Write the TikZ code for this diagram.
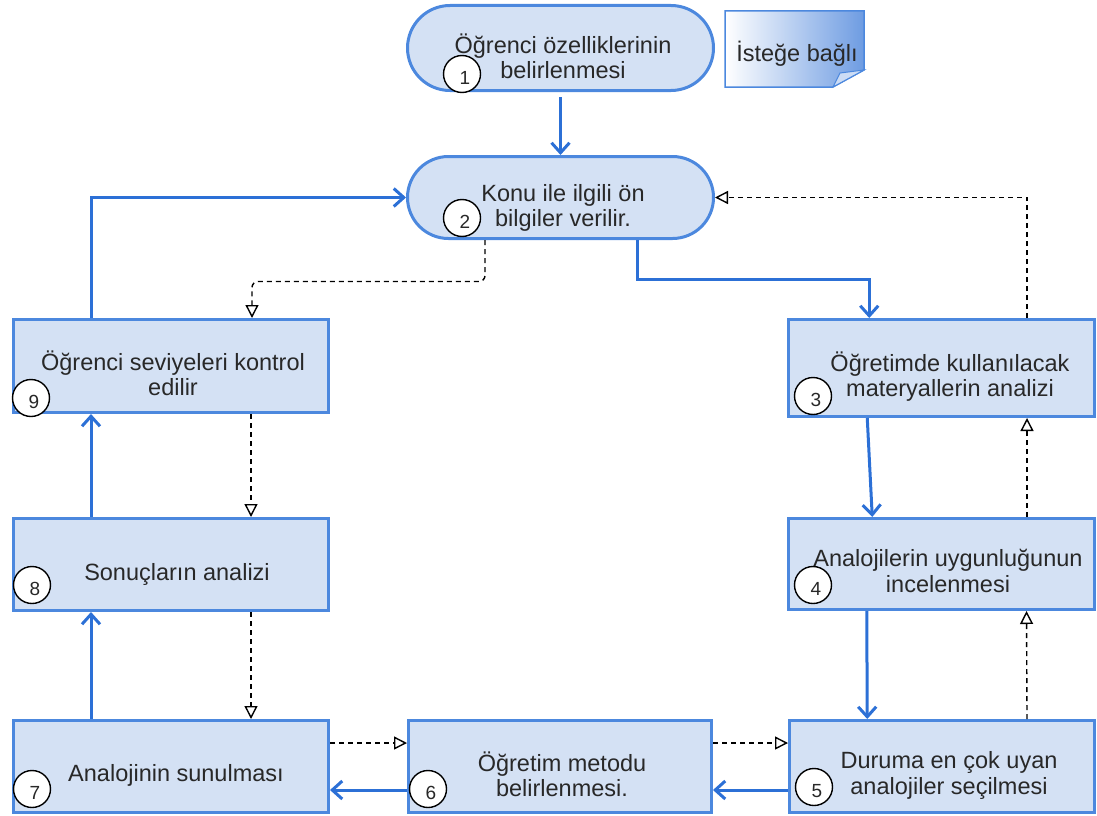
\documentclass[tikz,border=0pt]{standalone}
\usepackage{fontspec}
\setmainfont{Liberation Sans}
\usetikzlibrary{arrows.meta,calc}
\definecolor{boxfill}{RGB}{212,225,244}
\definecolor{boxline}{RGB}{76,136,222}
\definecolor{flowc}{RGB}{44,112,214}
\definecolor{txtc}{RGB}{40,40,40}
\definecolor{noteblue}{RGB}{110,156,226}
\tikzset{
  box/.style={draw=boxline, fill=boxfill, line width=3pt, inner sep=0pt, rectangle},
  txt/.style={text=txtc, font=\fontsize{23.5}{26}\selectfont, inner sep=0pt, anchor=base},
  num/.style={circle, draw=black, fill=white, line width=1.4pt, minimum size=37pt, inner sep=0pt},
  numtxt/.style={font=\fontsize{19}{19}\selectfont, text=txtc, inner sep=0pt},
  flow/.style={draw=flowc, line width=3pt, -{Straight Barb[length=10pt,width=18pt]}},
  opt/.style={draw=black, line width=1.4pt, dash pattern=on 5pt off 4pt, -{Triangle[open,fill=white,length=13pt,width=13pt]}},
}
\begin{document}
\begin{tikzpicture}[x=1pt,y=-1pt]
\useasboundingbox (0,0) rectangle (1097,816);

% boxes
\node[box, rounded corners=42.5pt, minimum width=306pt, minimum height=85pt] (n1) at (560.5,48) {};
\node[box, rounded corners=41pt, minimum width=306pt, minimum height=82pt] (n2) at (560.5,197.5) {};
\node[box, minimum width=315pt, minimum height=93pt] (n9) at (171,366) {};
\node[box, minimum width=305.5pt, minimum height=97pt] (n3) at (941.25,368) {};
\node[box, minimum width=305.5pt, minimum height=91pt] (n4) at (941.25,564) {};
\node[box, minimum width=315pt, minimum height=92pt] (n8) at (171,564.5) {};
\node[box, minimum width=315pt, minimum height=92pt] (n7) at (171,766.5) {};
\node[box, minimum width=303pt, minimum height=92pt] (n6) at (560,766.5) {};
\node[box, minimum width=304.5pt, minimum height=92pt] (n5) at (941.75,766.5) {};

% note
\path[left color=white, right color=noteblue, draw=boxline, line width=1.5pt]
  (725,11) -- (864,11) -- (864,70) -- (833,87) -- (725,87) -- cycle;
\path[fill=white!65!noteblue, draw=boxline, line width=1pt]
  (864,70) -- (833,87) -- (840,73) -- cycle;
\node[txt] (note) at (797,62) {İsteğe bağlı};

% solid flow
\draw[flow, shorten <=5pt] (n1.south) -- (n2.north);
\draw[flow] ([xshift=76.5pt]n2.south) -- ++(0,39.5) -| ([xshift=-72pt]n3.north);
\draw[flow] ([xshift=-74pt]n3.south) -- ([xshift=-69pt]n4.north);
\draw[flow] ([xshift=-74.5pt]n4.south) -- ([xshift=-74.5pt]n5.north);
\draw[flow] ([yshift=-23.5pt]n5.west) -- ([yshift=-23.5pt]n6.east);
\draw[flow] ([yshift=-23.5pt]n6.west) -- ([yshift=-23.5pt]n7.east);
\draw[flow] ([xshift=-80pt]n7.north) -- ([xshift=-80pt]n8.south);
\draw[flow] ([xshift=-80pt]n8.north) -- ([xshift=-80pt]n9.south);
\draw[flow] ([xshift=-80pt]n9.north) |- (n2.west);

% dashed optional flow
\draw[opt, rounded corners=6pt] ([xshift=-75.5pt]n2.south) -- ++(0,41.5) -| ([xshift=81pt]n9.north);
\draw[opt] ([xshift=85.75pt]n3.north) |- (n2.east);
\draw[opt] ([xshift=85.75pt]n4.north) -- ([xshift=85.75pt]n3.south);
\draw[opt] ([xshift=85.25pt]n5.north) -- ([xshift=85.25pt]n4.south);
\draw[opt] ([xshift=80pt]n9.south) -- ([xshift=80pt]n8.north);
\draw[opt] ([xshift=80pt]n8.south) -- ([xshift=80pt]n7.north);
\draw[opt] ([yshift=23.5pt]n7.east) -- ([yshift=23.5pt]n6.west);
\draw[opt] ([yshift=23.5pt]n6.east) -- ([yshift=23.5pt]n5.west);

% texts
\node[txt] (t1a) at (563,53) {Öğrenci özelliklerinin};
\node[txt] (t1b) at (563,78) {belirlenmesi};
\node[txt] (t2a) at (563,201) {Konu ile ilgili ön};
\node[txt] (t2b) at (563,226) {bilgiler verilir.};
\node[txt] (t9a) at (173,370) {Öğrenci seviyeleri kontrol};
\node[txt] (t9b) at (173,395) {edilir};
\node[txt] (t3a) at (950,371) {Öğretimde kullanılacak};
\node[txt] (t3b) at (950,396) {materyallerin analizi};
\node[txt] (t4a) at (948,566) {Analojilerin uygunluğunun};
\node[txt] (t4b) at (948,592) {incelenmesi};
\node[txt] (t8) at (177,580) {Sonuçların analizi};
\node[txt] (t7) at (176,781) {Analojinin sunulması};
\node[txt] (t6a) at (562,771) {Öğretim metodu};
\node[txt] (t6b) at (562,796) {belirlenmesi.};
\node[txt] (t5a) at (949,768) {Duruma en çok uyan};
\node[txt] (t5b) at (949,794) {analojiler seçilmesi};

% step numbers
\foreach \k/\x/\y in {1/462/74, 2/462/218, 9/31/398, 3/813/396, 4/813/585, 8/32/585, 7/32/789, 6/428/789, 5/814/787}{
  \node[num] (c\k) at (\x,\y) {};
  \node[numtxt] (d\k) at ([shift={(3pt,-4pt)}]c\k.center) {\k};
}
\end{tikzpicture}
\end{document}
